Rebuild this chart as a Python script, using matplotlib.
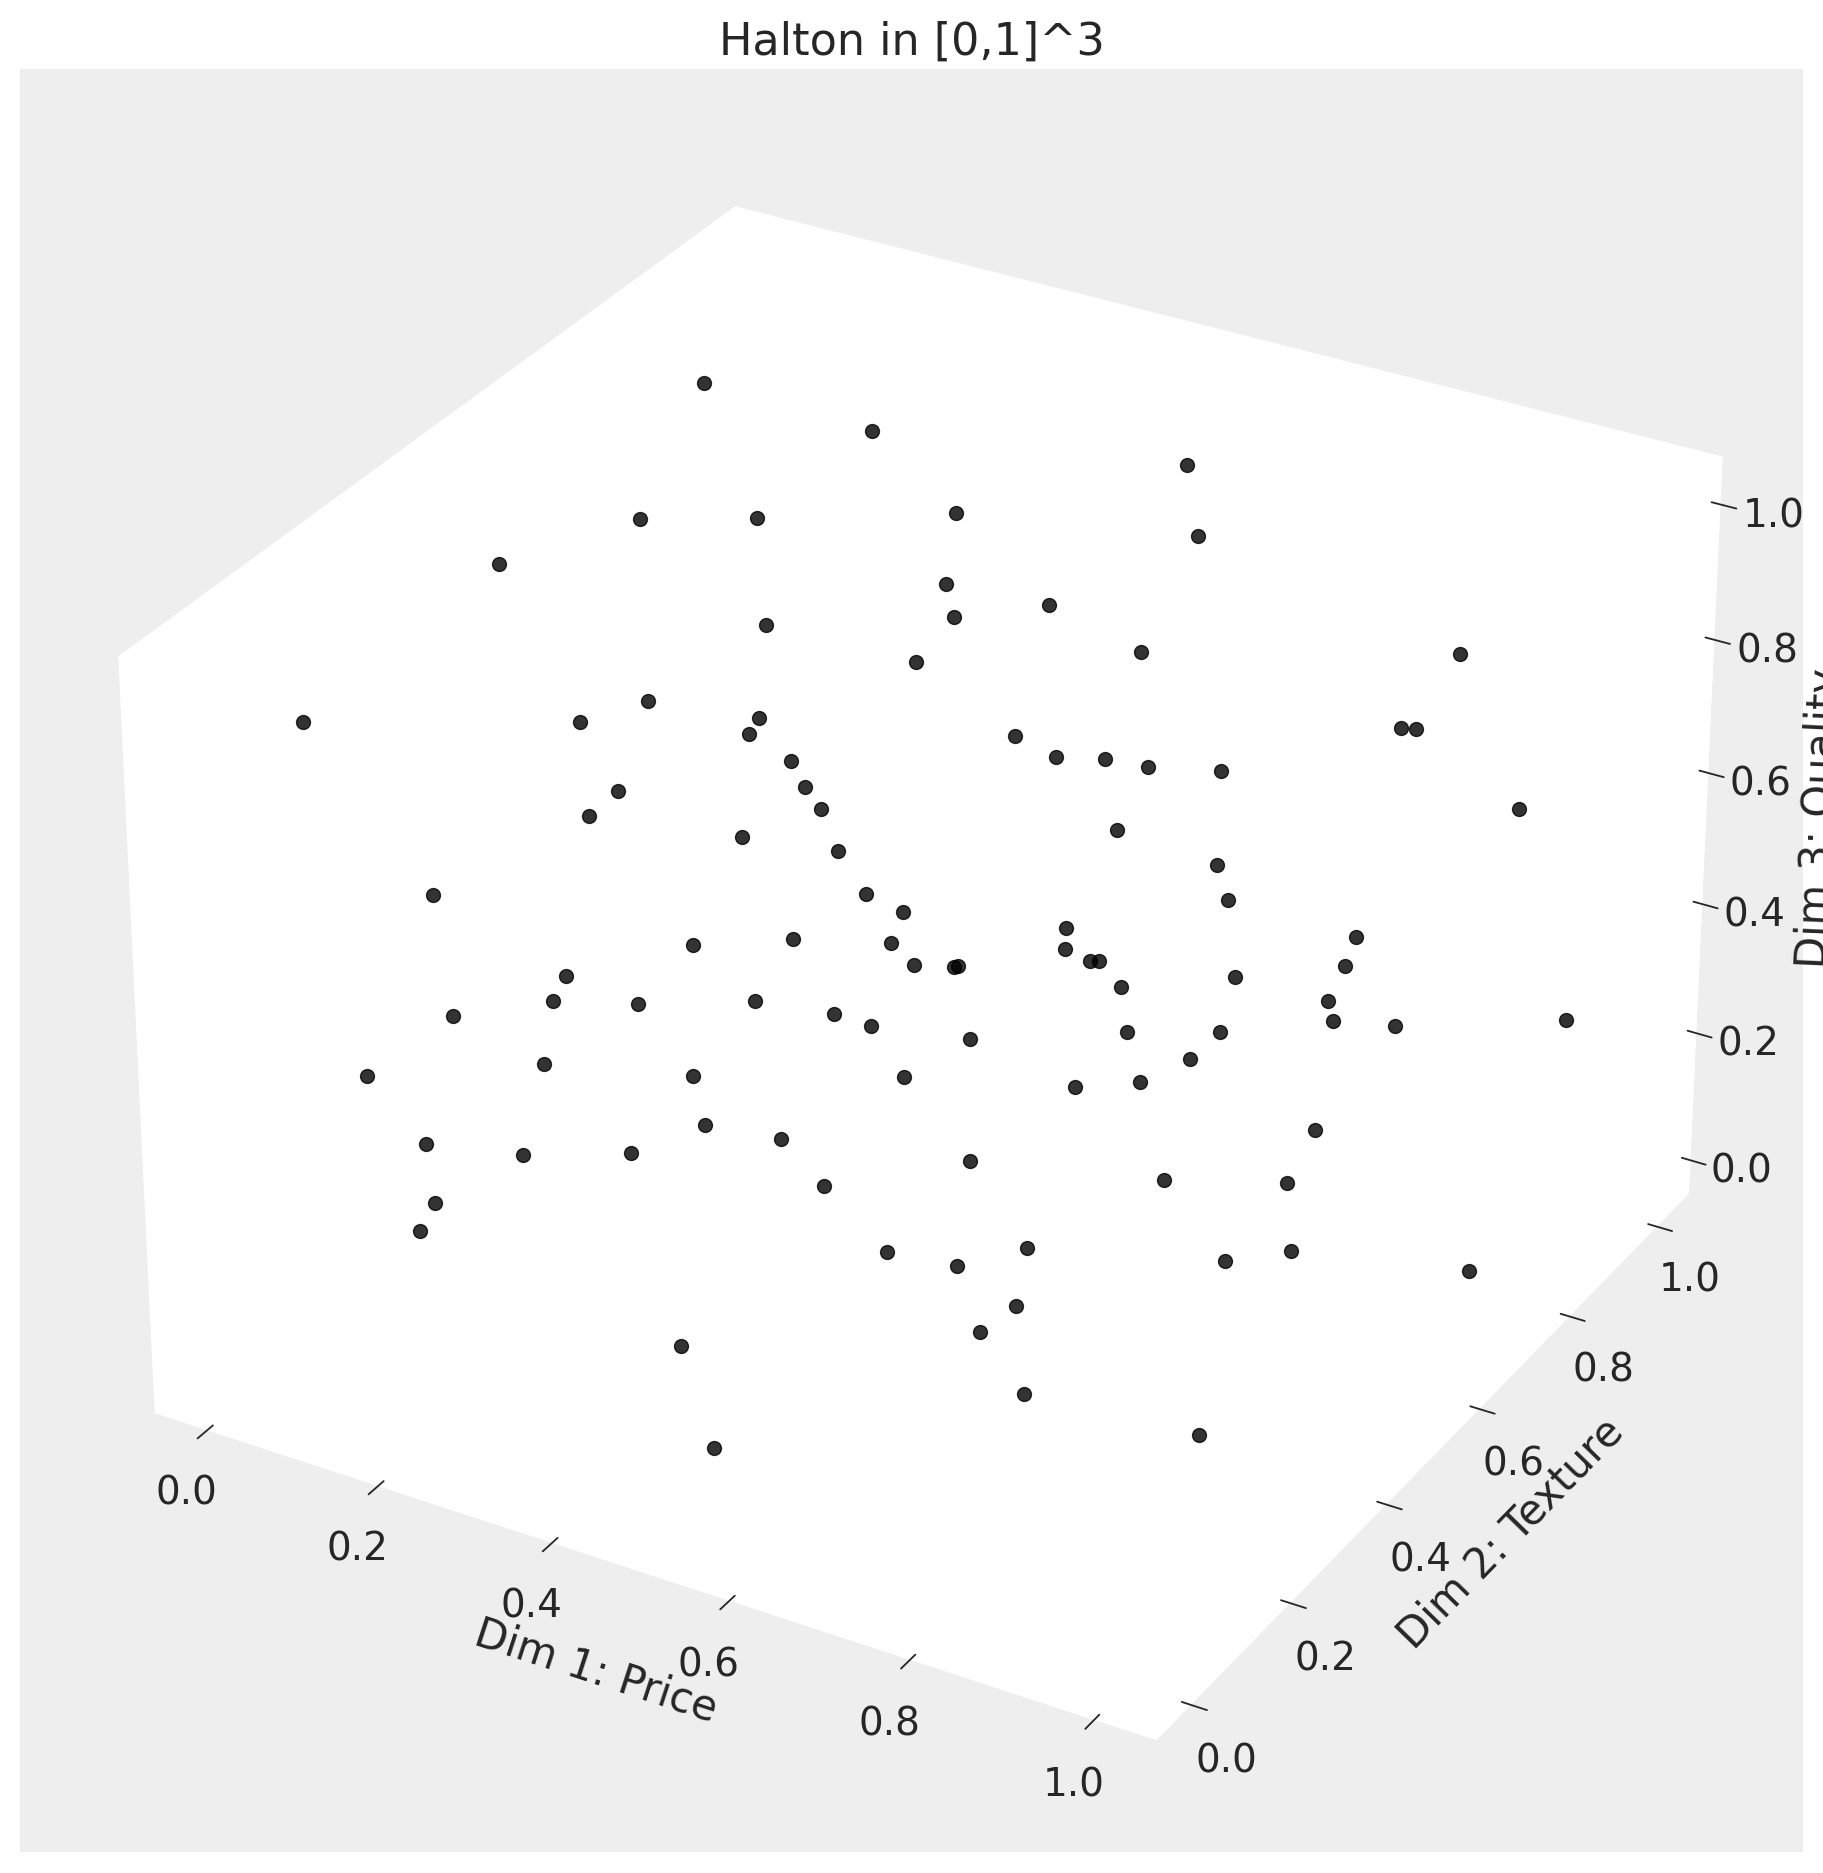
import matplotlib
matplotlib.use("Agg")
import matplotlib.pyplot as plt
import seaborn as sns

sns.set_style("darkgrid")

# values (depth along the view can't be read, so it is a best guess)
price = [0.028, 0.208, 0.545, 0.337, 0.077, 0.136, 0.593, 0.042, 0.364, 0.479,
         0.388, 0.201, 0.594, 0.908, 0.373, 0.176, 0.041, 0.159, 0.241, 0.238,
         0.509, 0.886, 0.900, 0.560, 0.609, 0.294, 0.656, 0.729, 0.209, 0.321,
         0.348, 0.962, 0.198, 0.654, 0.280, 0.385, 0.769, 0.422, 0.111, 0.795,
         0.465, 0.648, 0.871, 0.341, 0.451, 0.253, 0.647, 0.675, 0.685, 0.477,
         0.522, 0.527, 0.865, 0.183, 0.801, 0.710, 0.337, 0.176, 0.223, 0.856,
         0.120, 0.422, 0.859, 0.993, 0.465, 0.895, 0.718, 0.793, 0.569, 0.780,
         0.170, 0.314, 0.070, 0.524, 0.756, 0.696, 0.351, 0.871, 0.434, 0.102,
         0.292, 0.185, 0.630, 0.827, 0.883, 0.500, 0.120, 0.119, 0.728, 0.594,
         0.916, 0.892, 0.669, 1.003, 0.744, 0.722, 0.437, 0.793, 0.958, 0.516]
texture = [0.858, 0.889, 0.935, 0.833, 0.651, 0.780, 0.871, 0.441, 0.766, 0.772,
           0.739, 0.687, 0.752, 0.827, 0.690, 0.498, 0.087, 0.399, 0.605, 0.590,
           0.650, 0.748, 0.751, 0.642, 0.652, 0.577, 0.655, 0.669, 0.386, 0.558,
           0.544, 0.861, 0.349, 0.595, 0.503, 0.514, 0.590, 0.504, 0.199, 0.563,
           0.504, 0.504, 0.690, 0.499, 0.504, 0.451, 0.504, 0.504, 0.504, 0.504,
           0.504, 0.504, 0.680, 0.324, 0.569, 0.504, 0.431, 0.310, 0.394, 0.664,
           0.214, 0.440, 0.669, 0.921, 0.439, 0.733, 0.502, 0.556, 0.454, 0.518,
           0.300, 0.348, 0.133, 0.402, 0.460, 0.439, 0.308, 0.613, 0.316, 0.185,
           0.265, 0.234, 0.346, 0.380, 0.532, 0.286, 0.171, 0.144, 0.286, 0.247,
           0.479, 0.386, 0.253, 0.698, 0.235, 0.204, 0.117, 0.165, 0.214, 0.045]
quality = [0.954, 0.925, 0.962, 0.879, 0.887, 0.834, 0.910, 0.934, 0.822, 0.827,
           0.798, 0.751, 0.810, 0.874, 0.754, 0.743, 0.919, 0.768, 0.675, 0.660,
           0.718, 0.806, 0.808, 0.710, 0.719, 0.648, 0.722, 0.735, 0.692, 0.630,
           0.616, 0.643, 0.674, 0.666, 0.574, 0.586, 0.660, 0.542, 0.620, 0.635,
           0.531, 0.576, 0.527, 0.446, 0.479, 0.435, 0.545, 0.537, 0.541, 0.455,
           0.470, 0.473, 0.487, 0.445, 0.519, 0.513, 0.395, 0.413, 0.371, 0.442,
           0.433, 0.402, 0.410, 0.294, 0.401, 0.373, 0.449, 0.442, 0.412, 0.423,
           0.321, 0.328, 0.376, 0.372, 0.417, 0.400, 0.295, 0.286, 0.302, 0.250,
           0.258, 0.233, 0.326, 0.354, 0.267, 0.277, 0.177, 0.152, 0.277, 0.243,
           0.214, 0.254, 0.248, 0.064, 0.233, 0.206, 0.127, 0.171, 0.144, 0.059]

xlim = (-0.063, 1.066)
ylim = (-0.067, 1.075)
zlim = (-0.053, 1.069)

fig = plt.figure(figsize=(18.23, 18.73), dpi=100, facecolor="white")
ax = fig.add_axes([20/1823, 21/1873, 1783/1823, 1783/1873], projection="3d")
ax.scatter(price, texture, quality, s=100, c="k", alpha=0.8, depthshade=False)
ax.set_xlim(*xlim)
ax.set_ylim(*ylim)
ax.set_zlim(*zlim)

ax.set_facecolor("#eeeeee")
for a in (ax.xaxis, ax.yaxis, ax.zaxis):
    a.set_pane_color("white")
    a._axinfo["grid"]["color"] = "white"
    a._axinfo["tick"]["linewidth"] = {True: 1.3, False: 1.0}

ax.set_title("Halton in [0,1]^3", fontsize=32, pad=10.5)
ax.set_xlabel("Dim 1: Price", fontsize=30, labelpad=30)
ax.set_ylabel("Dim 2: Texture", fontsize=30, labelpad=30)
ax.set_zlabel("Dim 3: Quality", fontsize=30, labelpad=30)
ax.tick_params(labelsize=28, pad=15.5)
fig.savefig("out.png")
